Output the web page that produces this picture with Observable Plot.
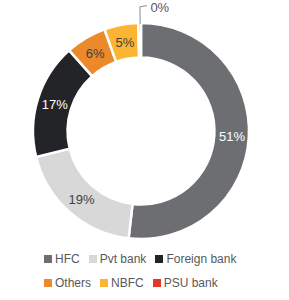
<!DOCTYPE html>
<html>
<head>
<meta charset="utf-8">
<script src="https://cdn.jsdelivr.net/npm/d3@7"></script>
<script src="https://cdn.jsdelivr.net/npm/@observablehq/plot@0.6"></script>
<style>
  html, body { margin: 0; padding: 0; background: #fff; }
  body { width: 289px; font-family: "Liberation Sans", Arial, sans-serif; }
  .legend { position: relative; height: 55px; }
  .row { display: flex; align-items: center; height: 14px; padding-left: 44px; }
  .item { display: flex; align-items: center; margin-right: 9px; color: #58595b; font-size: 12px; }
  .sw { width: 8px; height: 8px; margin-right: 3px; }
</style>
</head>
<body>
<div id="chart"></div>
<script>
const categories = ["HFC", "Pvt bank", "Foreign bank", "Others", "NBFC", "PSU bank"];
const shares = [51, 19, 17, 6, 5, 0.4];
const labels = ["51%", "19%", "17%", "6%", "5%", "0%"];
const colors = ["#6d6e71", "#d8d8d8", "#232427", "#ea8a2a", "#fbb532", "#e5362b"];
const labelInk = ["#ffffff", "#3f3f3f", "#ffffff", "#3f3f3f", "#3f3f3f", "#58595b"];
const legendRows = [["HFC", "Pvt bank", "Foreign bank"], ["Others", "NBFC", "PSU bank"]];

const innerRatio = 0.68;
const table = categories.map((c, i) => ({category: c, value: shares[i], label: labels[i], ink: labelInk[i]}));
const slices = d3.pie().sort(null).value(d => d.value)(table);
const mid = s => (s.startAngle + s.endAngle) / 2;
const labelR = (1 + innerRatio) / 2;
const inside = slices.filter(s => s.data.value >= 1);
const small = slices.filter(s => s.data.value < 1);
const leader = small.flatMap(s => {
  const a = mid(s);
  const x2 = 1.155 * Math.sin(a), y2 = 1.155 * Math.cos(a);
  return [
    {x: Math.sin(a), y: Math.cos(a), k: s.data.category},
    {x: x2, y: y2, k: s.data.category},
    {x: x2 + 0.06, y: y2 + 0.01, k: s.data.category, label: s.data.label}
  ];
});

const color = d3.scaleOrdinal(categories, colors);

function donut(index, scales) {
  const cx = scales.x(0), cy = scales.y(0);
  const R = scales.x(1) - cx;
  const arc = d3.arc().innerRadius(R * innerRatio).outerRadius(R);
  const g = d3.create("svg:g").attr("transform", `translate(${cx},${cy})`);
  g.selectAll("path").data(slices).join("path")
    .attr("d", arc)
    .attr("fill", d => color(d.data.category))
    .attr("stroke", "#fff")
    .attr("stroke-width", 2.5)
    .attr("stroke-linejoin", "round");
  return g.node();
}

const chart = Plot.plot({
  width: 289,
  height: 245,
  marginLeft: 33,
  marginRight: 40,
  marginTop: 23,
  marginBottom: 6,
  style: {background: "#fff", fontFamily: "Liberation Sans, Arial, sans-serif"},
  x: {domain: [-1, 1], axis: null},
  y: {domain: [-1, 1], axis: null},
  marks: [
    donut,
    Plot.text(inside, {
      x: s => labelR * Math.sin(mid(s)),
      y: s => labelR * Math.cos(mid(s)),
      text: s => s.data.label,
      fill: s => s.data.ink,
      fontSize: 13
    }),
    Plot.line(leader, {x: "x", y: "y", z: "k", stroke: "#8a8a8a", strokeWidth: 1}),
    Plot.text(leader.filter(d => d.label), {
      x: "x", y: "y", text: "label", dx: 4, dy: 2, textAnchor: "start",
      fill: "#58595b", fontSize: 13
    })
  ]
});
document.getElementById("chart").appendChild(chart);

const legend = document.createElement("div");
legend.className = "legend";
legendRows.forEach((row, r) => {
  const rowEl = document.createElement("div");
  rowEl.className = "row";
  rowEl.style.marginTop = r === 0 ? "7px" : "10px";
  row.forEach(name => {
    const item = document.createElement("div");
    item.className = "item";
    const sw = document.createElement("span");
    sw.className = "sw";
    sw.style.background = color(name);
    const tx = document.createElement("span");
    tx.textContent = name;
    item.appendChild(sw);
    item.appendChild(tx);
    rowEl.appendChild(item);
  });
  legend.appendChild(rowEl);
});
document.body.appendChild(legend);
</script>
</body>
</html>
